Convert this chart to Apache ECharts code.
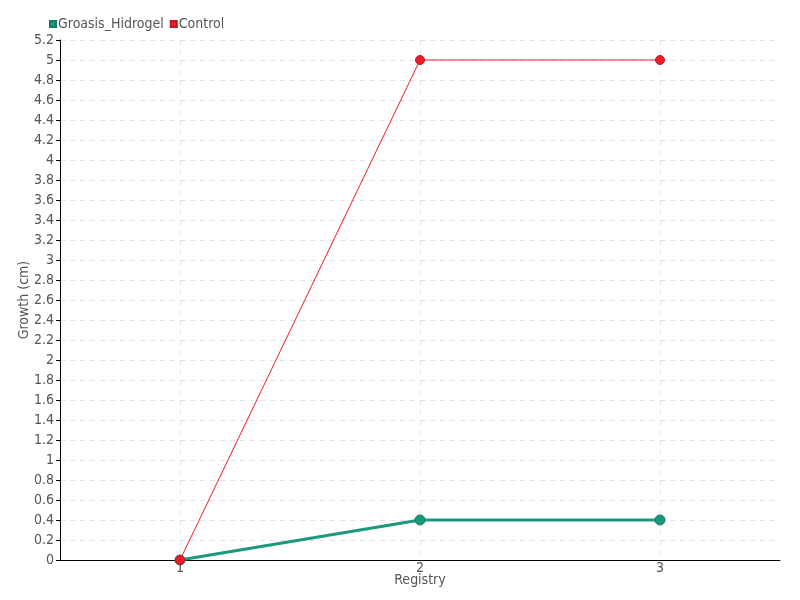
<!DOCTYPE html>
<html><head><meta charset="utf-8">
<script src="https://cdn.jsdelivr.net/npm/echarts@6/dist/echarts.min.js"></script>
<style>html,body{margin:0;padding:0;background:#fff}#c{width:800px;height:600px}</style>
</head><body><div id="c"></div>
<script>
const categories = ['1', '2', '3'];
const hidrogel = [0, 0.4, 0.4];
const control = [0, 5, 5];
const seriesNames = ['Groasis_Hidrogel', 'Control'];

const font = '"DejaVu Sans Condensed", "Liberation Sans Narrow", sans-serif';
const chart = echarts.init(document.getElementById('c'));
chart.setOption({
  animation: false,
  textStyle: {fontFamily: font},
  legend: {
    left: 44, top: 12, itemWidth: 6, itemHeight: 6, itemGap: 6,
    icon: 'rect',
    textStyle: {fontFamily: font, fontSize: 14, color: '#555', padding: [0,0,0,-3]},
    data: seriesNames
  },
  grid: {left: 60, right: 20, top: 40, bottom: 40},
  xAxis: {
    type: 'category', data: categories, boundaryGap: true,
    name: 'Registry', nameLocation: 'middle', nameGap: 13, nameMoveOverlap: false,
    nameTextStyle: {fontFamily: font, fontSize: 14, color: '#555'},
    axisLine: {lineStyle: {color: '#000', width: 1}},
    axisTick: {alignWithLabel: true, length: 8, inside: false, lineStyle: {color: '#555'}},
    axisLabel: {fontFamily: font, fontSize: 14, color: '#555', margin: 1},
    splitLine: {show: true, alignWithLabel: true, lineStyle: {color: '#e3e3e3', type: [5, 5]}}
  },
  yAxis: {
    type: 'value', min: 0, max: 5.2, interval: 0.2,
    name: 'Growth (cm)', nameLocation: 'middle', nameGap: 29, nameMoveOverlap: false,
    nameTextStyle: {fontFamily: font, fontSize: 14, color: '#555'},
    axisLine: {show: true, lineStyle: {color: '#000', width: 1}},
    axisTick: {show: true, length: 4, lineStyle: {color: '#000'}},
    axisLabel: {fontFamily: font, fontSize: 14, color: '#555', margin: 6},
    splitLine: {show: true, lineStyle: {color: '#e3e3e3', type: [5, 5]}}
  },
  series: [
    {
      name: seriesNames[0], type: 'line', data: hidrogel,
      color: '#1b9a7b',
      lineStyle: {width: 3, color: '#1b9a7b'},
      symbol: 'circle', symbolSize: 10,
      itemStyle: {color: '#1b9a7b', borderColor: '#177a62', borderWidth: 1},
      z: 2
    },
    {
      name: seriesNames[1], type: 'line', data: control,
      color: '#ec1c2a',
      lineStyle: {width: 1, color: '#ec1c2a'},
      symbol: 'circle', symbolSize: 9,
      itemStyle: {color: '#ec1c2a', borderColor: '#c4141f', borderWidth: 1},
      z: 3
    }
  ]
});
</script></body></html>
